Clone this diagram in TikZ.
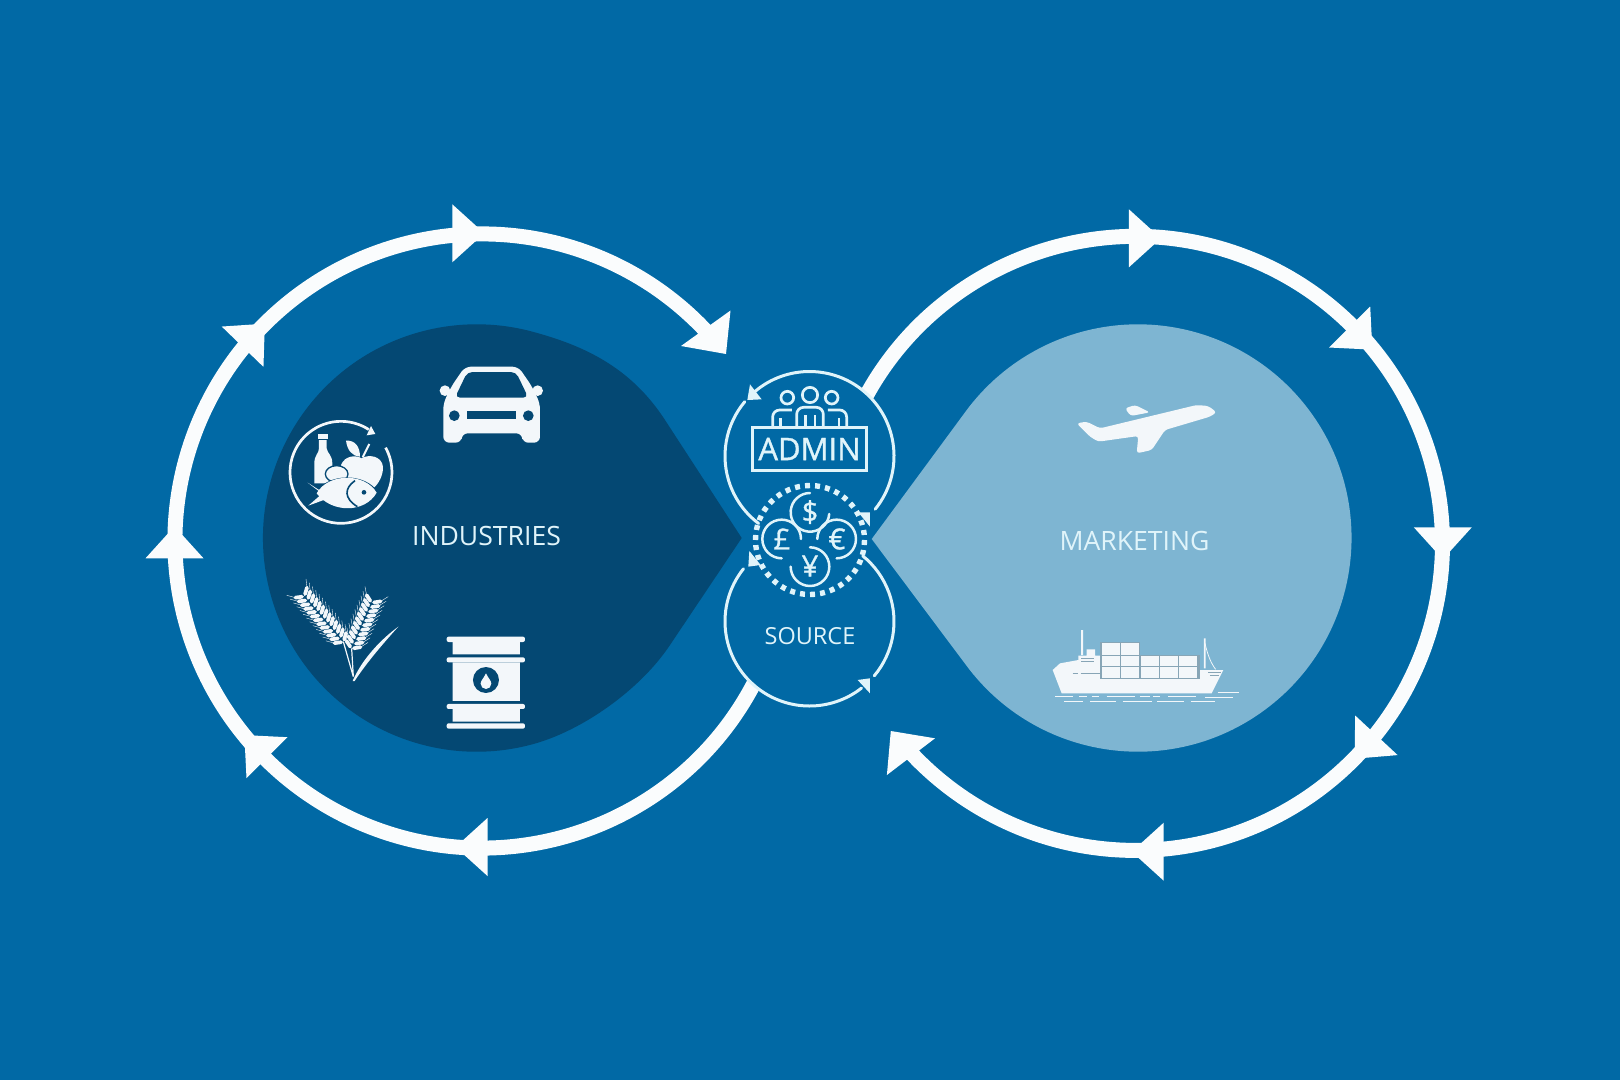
\documentclass[tikz,border=0pt]{standalone}
\usepackage{fontspec}
\setmainfont{Open Sans}
\newfontfamily\heavyfont[FakeBold=1.1]{Open Sans}
\usepackage{tikz}
\usetikzlibrary{calc}
\definecolor{bgblue}{RGB}{1,105,165}
\definecolor{darkblob}{RGB}{4,72,115}
\definecolor{lightblob}{RGB}{126,181,210}
\definecolor{ringwhite}{RGB}{250,252,253}
\definecolor{iconwhite}{RGB}{243,247,250}
\definecolor{linewhite}{RGB}{224,244,250}
\definecolor{shipgrey}{RGB}{135,165,182}
\tikzset{
  ringline/.style={ringwhite, line width=15pt},
  hubline/.style={linewhite, line width=3pt, line cap=round},
  peopleline/.style={linewhite, line width=2.7pt},
  textlabel/.style={linewhite, inner sep=0pt, font=\fontsize{26.6}{26.6}\selectfont},
  coinsign/.style={linewhite, inner sep=0pt, font=\heavyfont\fontsize{29}{29}\selectfont}
}
\begin{document}
\begin{tikzpicture}[x=1pt,y=-1pt]
  \fill[bgblue] (0,0) rectangle (1620,1080);
  \useasboundingbox (0,0) rectangle (1620,1080);
  % blobs
  \fill[darkblob] (741.7,538) -- (670,645) .. controls (640,690) and (582,731) .. (532,744.4)
    arc (75:285:213.7) .. controls (582,345) and (630,366) .. (665,420) -- cycle;
  \fill[lightblob] (871.7,539) -- (966.3,665.4) arc (143.4:-143.4:213.7) -- cycle;
  % left ring
  \draw[ringline] (482,541) ++(22:307) arc (22:318:307);
  \foreach \hx/\hy/\hd in {452.3/233.3/0, 242.6/346.7/-46, 174.5/558.3/-90, 267/757.7/-135, 487.5/847/180}
    \fill[ringwhite] ($(\hx,\hy)+(\hd:32)$) -- ($(\hx,\hy)+({\hd+90}:29)$) -- ($(\hx,\hy)+({\hd-90}:29)$) -- cycle;
  \fill[ringwhite] (730.5,310.5) -- (726,354) -- (681,346) -- cycle;
  % right ring
  \draw[ringline] (1135.4,543.4) ++(203:307) arc (203:497:307);
  \foreach \hx/\hy/\hd in {1128.9/238.3/0, 1349.7/327/45, 1442.8/527.3/90, 1376.4/735.3/133, 1163.7/851.7/180}
    \fill[ringwhite] ($(\hx,\hy)+(\hd:32)$) -- ($(\hx,\hy)+({\hd+90}:29)$) -- ($(\hx,\hy)+({\hd-90}:29)$) -- cycle;
  \fill[ringwhite] (935,738.3) -- (886.9,775) -- (890.8,731) -- cycle;
  % hub circles
  \fill[bgblue] (809.5,456) circle (84.5);
  \fill[bgblue] (809.5,621.5) circle (84.5);
  \draw[hubline] (809.5,456) ++(39:84.5) arc (39:-133:84.5);
  \draw[hubline] (809.5,456) ++(220:84.5) arc (220:127:84.5);
  \draw[hubline] (809.5,621.5) ++(218.6:84.5) arc (218.6:52:84.5);
  \draw[hubline] (809.5,621.5) ++(40:84.5) arc (40:-51:84.5);
  \draw[linewhite, line width=5.4pt, dash pattern=on 5pt off 5.07pt] (810,540) circle (54.5);
  % hub detail, in crop units
  \begin{scope}[shift={(690,350)},scale=0.3333]
    \fill[linewhite] (180,103) -- (215,148) -- (172,150) -- cycle;
    \fill[linewhite] (540,487) -- (505,487) -- (540,530) -- cycle;
    \fill[linewhite] (178,603) -- (212,645) -- (175,650) -- cycle;
    \fill[linewhite] (540,985) -- (503,990) -- (540,1030) -- cycle;
    % people
    \draw[peopleline] (360,135) circle (23) (292,143) circle (19) (425,143) circle (19);
    \draw[peopleline, rounded corners=7pt]
      (320,232) -- (320,172) -- (400,172) -- (400,232)
      (248,232) -- (248,180) -- (306,180)
      (470,232) -- (470,180) -- (414,180);
    \draw[peopleline] (346,195) -- (346,232) (375,195) -- (375,232)
      (272,205) -- (272,232) (447,205) -- (447,232);
    \draw[linewhite, line width=3pt] (188,232) rectangle (530,362);
    % coins
    \draw[hubline, line width=2.5pt] (360,487) ++(5:58) arc (5:270:58);
    \draw[hubline, line width=2.5pt] (275,567) ++(90:58) arc (90:360:58);
    \draw[hubline, line width=2.5pt] (440,567) ++(180:58) arc (180:450:58);
    \draw[hubline, line width=2.5pt] (360,650) ++(-90:58) arc (-90:180:58);
  \end{scope}
  \node[coinsign] (dollarsign) at (810,512) {\$};
  \node[coinsign] (poundsign) at (782,539) {£};
  \node[coinsign] (eurosign) at (837,539) {€};
  \node[coinsign] (yensign) at (810,566) {¥};
  \node[linewhite, inner sep=0pt, font=\heavyfont\fontsize{31}{31}\selectfont] (adminlabel) at (809.5,449) {ADMIN};
  \node[textlabel, font=\fontsize{23.5}{23.5}\selectfont] (sourcelabel) at (810,636) {SOURCE};
  \node[textlabel] (industrieslabel) at (486.5,536) {INDUSTRIES};
  \node[textlabel] (marketinglabel) at (1134.5,541) {MARKETING};
  % car
  \begin{scope}[shift={(270,350)},scale=0.3333]
    \fill[iconwhite, rounded corners=6pt] (585,50) -- (745,50) -- (785,108) -- (810,160) -- (810,278)
      -- (757,278) -- (757,250) -- (575,250) -- (575,278) -- (520,278) -- (520,160) -- (545,108) -- cycle;
    \fill[iconwhite] (525,122) circle (16) (803,122) circle (16);
    \fill[darkblob, rounded corners=5pt] (592,66) -- (738,66) -- (775,143) -- (555,143) -- cycle;
    \fill[darkblob] (553,197) circle (16) (775,197) circle (16);
    \fill[darkblob] (592,182) rectangle (738,207);
    % food
    \draw[iconwhite, line width=2.7pt] (213,367) ++(-29:153) arc (-29:303:153);
    \fill[iconwhite] (303,228) -- (316,252) -- (290,256) -- cycle;
    \fill[iconwhite] (143,253) rectangle (175,266);
    \fill[iconwhite] (147,270) -- (170,270) -- (170,295) .. controls (172,310) and (187,315) .. (187,340)
      -- (187,400) -- (133,400) -- (133,340) .. controls (133,315) and (147,310) .. (147,295) -- cycle;
    \fill[iconwhite] (213,345) .. controls (225,315) and (260,315) .. (275,325) .. controls (295,312) and (335,317) .. (339,350)
      .. controls (340,375) and (327,400) .. (310,415) -- (230,390) .. controls (222,378) and (211,360) .. (213,345);
    \fill[iconwhite] (228,272) .. controls (255,270) and (270,290) .. (270,320) .. controls (245,318) and (232,300) .. (228,272);
    \draw[iconwhite, line width=2pt] (298,282) -- (278,322);
    \draw[darkblob, fill=iconwhite, line width=1.3pt] (200,372) ellipse (34 and 25);
    \draw[darkblob, line width=2.6pt] (140,430) .. controls (175,372) and (285,372) .. (320,428);
    \fill[iconwhite] (113,398) -- (160,428) -- (115,467) -- (175,445) -- cycle;
    \fill[iconwhite] (140,430) .. controls (175,368) and (285,368) .. (320,428)
      .. controls (285,490) and (185,490) .. (140,430) -- cycle;
    \draw[darkblob, line width=1.6pt] (255,392) .. controls (222,415) and (222,445) .. (262,470);
    \fill[darkblob] (282,427) circle (7);
  \end{scope}
  % wheat and barrel
  \begin{scope}[shift={(270,570)},scale=0.3333]
    \draw[iconwhite, line width=1.2pt] (220,215) -- (250,320) (245,235) -- (250,320);
    \fill[iconwhite] (248,333) .. controls (275,270) and (330,210) .. (385,170) .. controls (335,225) and (285,285) .. (254,333) -- cycle;
    \foreach \bx/\by/\ang/\len in {220/215/130.7/180, 245/235/66.3/155} {
      \begin{scope}[shift={(\bx,\by)},rotate=\ang]
        \foreach \t in {0,15,...,\len}
          \foreach \sd in {1,-1} {
            \draw[iconwhite, line width=3.7pt, line cap=round] (\t+3,\sd*6) -- (\t+14,\sd*23);
            \draw[iconwhite, line width=0.4pt] (\t+14,\sd*23) -- (\t+36,\sd*38);
          }
      \end{scope}
    }
    \foreach \ya/\yb in {200/216, 262/277, 402/417, 460/476}
      \fill[iconwhite, rounded corners=2pt] (530,\ya) rectangle (765,\yb);
    \fill[iconwhite] (548,216) rectangle (750,253) (548,277) rectangle (750,393) (548,417) rectangle (750,455);
    \fill[darkblob] (648,330) circle (39);
    \fill[iconwhite] (648,310) .. controls (655,325) and (664,332) .. (664,341) arc (0:180:16) .. controls (632,332) and (641,325) .. (648,310);
  \end{scope}
  % plane
  \begin{scope}[shift={(1040,380)},scale=0.3333]
    \fill[iconwhite, rounded corners=3pt] (110,130) -- (140,125) -- (180,145) -- (470,75) -- (505,78) -- (530,97)
      -- (510,110) -- (375,150) -- (335,210) -- (290,220) -- (295,168) -- (175,185) -- (150,170) -- cycle;
    \fill[iconwhite, rounded corners=3pt] (255,85) -- (285,75) -- (330,97) -- (272,108) -- cycle;
  \end{scope}
  % ship
  \begin{scope}[shift={(1040,610)},scale=0.3333]
    \fill[iconwhite] (123,60) rectangle (129,135) (492,85) rectangle (497,175);
    \draw[iconwhite, line width=0.8pt] (495,100) .. controls (503,135) and (513,160) .. (527,178);
    \fill[iconwhite] (38,180) -- (60,160) -- (115,150) -- (115,137) -- (140,137) -- (140,118) -- (165,118) -- (165,137)
      -- (180,137) -- (180,172) -- (480,172) -- (480,180) -- (550,180) -- (515,250) -- (65,250) -- cycle;
    \fill[shipgrey] (181,97) rectangle (301,208);
    \fill[shipgrey] (299,135) rectangle (479,208);
    \foreach \cx in {185,243} \fill[iconwhite] (\cx,100) rectangle ++(54,35);
    \foreach \cx in {185,243,302,360,418} {
      \fill[iconwhite] (\cx,138) rectangle ++(54,31);
      \fill[iconwhite] (\cx,172) rectangle ++(54,32);
    }
    \draw[shipgrey, line width=0.8pt] (124,146) -- (163,146) (124,154) -- (163,154)
      (98,190) -- (115,190) (122,190) -- (180,190) (505,186) -- (542,186) (510,195) -- (538,195);
    \draw[iconwhite, line width=0.7pt] (45,260) -- (100,260) (117,260) -- (140,260) (155,260) -- (178,260) (200,260) -- (285,260)
      (300,260) -- (330,260) (340,260) -- (360,260) (385,260) -- (468,260) (495,262) -- (578,262)
      (72,273) -- (130,273) (150,273) -- (228,273) (248,273) -- (335,273) (352,273) -- (432,273) (452,273) -- (525,273)
      (533,247) -- (598,247);
  \end{scope}
\end{tikzpicture}
\end{document}
